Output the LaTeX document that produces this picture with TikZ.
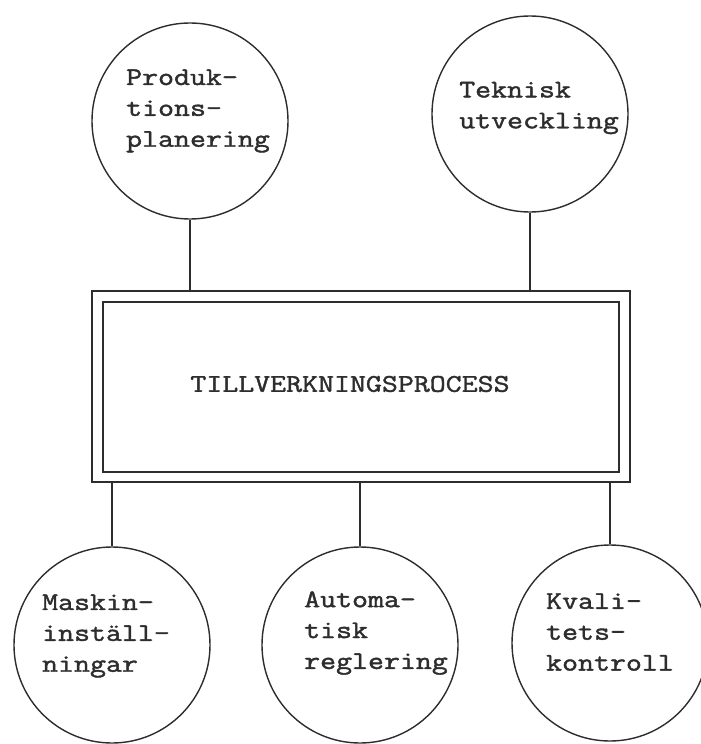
\documentclass[tikz,border=0pt]{standalone}
\usepackage{fontspec}
\newfontfamily\typewriter[FakeStretch=1.22, FakeBold=1.6]{Latin Modern Mono}
\definecolor{ink}{RGB}{45,45,45}
\begin{document}
\begin{tikzpicture}[x=1bp, y=-1bp,
  ring/.style={circle, draw=ink, line width=1.4bp, minimum size=196bp, inner sep=0pt},
  frame/.style={draw=ink, line width=1.4bp, inner sep=0pt},
  words/.style={font=\typewriter\fontsize{25.5}{31}\selectfont, align=left, text=ink, inner sep=0pt},
  link/.style={draw=ink, line width=1.3bp}]
\fill[white] (0,0) rectangle (701,744);
\useasboundingbox (0,0) rectangle (701,744);

% central process block: double frame
\node[frame, minimum width=538bp, minimum height=191bp] (box) at (361,386.5) {};
\node[frame, minimum width=516bp, minimum height=170bp] (boxin) at (361,387) {};
\node[words] (proc) at (350,384) {TILLVERKNINGSPROCESS};

% upper circles
\node[ring] (plan) at (190,121) {};
\node[words] (plan-t) at (198,111) {Produk-\\tions-\\planering};
\node[ring] (tek) at (530,114) {};
\node[words] (tek-t) at (539,108) {Teknisk\\utveckling};

% lower circles
\node[ring] (mask) at (112,645) {};
\node[words] (mask-t) at (106,636) {Maskin-\\inställ-\\ningar};
\node[ring] (auto) at (360,645) {};
\node[words] (auto-t) at (376,633) {Automa-\\tisk\\reglering};
\node[ring] (kval) at (610,643) {};
\node[words] (kval-t) at (610,632) {Kvali-\\tets-\\kontroll};

% connectors
\draw[link] (plan.south) -- (plan.south |- box.north);
\draw[link] (tek.south) -- (tek.south |- box.north);
\draw[link] (mask.north |- box.south) -- (mask.north);
\draw[link] (auto.north |- box.south) -- (auto.north);
\draw[link] (kval.north |- box.south) -- (kval.north);
\end{tikzpicture}
\end{document}
